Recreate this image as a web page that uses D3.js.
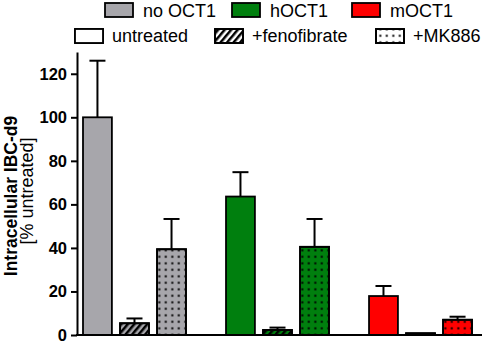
<!DOCTYPE html>
<html lang="en">
<head>
  <meta charset="UTF-8">
  <title>Intracellular IBC-d9</title>
  <script src="https://d3js.org/d3.v7.min.js"></script>
  <style>
    body { margin: 0; background: #fff; }
    text { font-family: "Liberation Sans", Arial, sans-serif; }
  </style>
</head>
<body>
  <div id="chart"></div>
  <script>
    // groups (cell lines) and treatments
    const groups = ["no OCT1", "hOCT1", "mOCT1"];
    const treatments = ["untreated", "+fenofibrate", "+MK886"];
    const groupColors = ["#a7a6ab", "#007f0e", "#ff0000"];

    // mean values [% untreated], one array per group
    const noOCT1 = [100, 5.4, 39.4];
    const hOCT1 = [63.6, 2.3, 40.5];
    const mOCT1 = [17.9, 0.8, 7.0];
    // error bar (upper value)
    const noOCT1_err = [126, 7.6, 53.3];
    const hOCT1_err = [74.8, 3.4, 53.3];
    const mOCT1_err = [22.5, 0.8, 8.4];

    const yTicks = [0, 20, 40, 60, 80, 100, 120];

    const means = [noOCT1, hOCT1, mOCT1];
    const errs = [noOCT1_err, hOCT1_err, mOCT1_err];
    const data = [];
    groups.forEach((g, i) => {
      treatments.forEach((t, j) => {
        data.push({ group: g, treatment: t, value: means[i][j], err: errs[i][j], color: groupColors[i] });
      });
    });

    const width = 484, height = 344;
    const svg = d3.select("#chart").append("svg")
      .attr("width", width)
      .attr("height", height);

    const defs = svg.append("defs");

    // hatch pattern
    const hatch = defs.append("pattern")
      .attr("id", "hatch")
      .attr("patternUnits", "userSpaceOnUse")
      .attr("width", 5)
      .attr("height", 5)
      .attr("patternTransform", "rotate(40)");
    hatch.append("line")
      .attr("x1", 1.25).attr("y1", 0).attr("x2", 1.25).attr("y2", 5)
      .attr("stroke", "#000").attr("stroke-width", 2.5);

    // dot pattern
    const dots = defs.append("pattern")
      .attr("id", "dots")
      .attr("patternUnits", "userSpaceOnUse")
      .attr("width", 6.5)
      .attr("height", 6.5);
    dots.append("rect")
      .attr("x", 2.3).attr("y", 2.3).attr("width", 2).attr("height", 2)
      .attr("fill", "#000");

    const x0 = d3.scaleBand()
      .domain(groups)
      .range([83, 472])
      .paddingInner(0.28)
      .paddingOuter(0);

    const x1 = d3.scaleBand()
      .domain(treatments)
      .range([0, x0.bandwidth()])
      .paddingInner(0.22);

    const y = d3.scaleLinear()
      .domain([0, 130])
      .range([335, 52]);

    // bars
    const barG = svg.append("g");
    data.forEach(d => {
      const bx = x0(d.group) + x1(d.treatment);
      const bw = x1.bandwidth();
      // error bar
      if (d.err > d.value) {
        barG.append("line")
          .attr("x1", bx + bw / 2).attr("x2", bx + bw / 2)
          .attr("y1", y(d.value)).attr("y2", y(d.err))
          .attr("stroke", "#000").attr("stroke-width", 2);
        barG.append("line")
          .attr("x1", bx + bw / 2 - 8).attr("x2", bx + bw / 2 + 8)
          .attr("y1", y(d.err)).attr("y2", y(d.err))
          .attr("stroke", "#000").attr("stroke-width", 2);
      }
      barG.append("rect")
        .attr("x", bx).attr("y", y(d.value))
        .attr("width", bw).attr("height", y(0) - y(d.value))
        .attr("fill", d.color)
        .attr("stroke", "#000").attr("stroke-width", 1.8);
      if (d.treatment !== "untreated") {
        barG.append("rect")
          .attr("x", bx).attr("y", y(d.value))
          .attr("width", bw).attr("height", y(0) - y(d.value))
          .attr("fill", d.treatment === "+fenofibrate" ? "url(#hatch)" : "url(#dots)")
          .attr("stroke", "#000").attr("stroke-width", 1.8);
      }
    });

    // y axis
    const yAxis = svg.append("g")
      .attr("transform", "translate(77,0)")
      .call(d3.axisLeft(y).tickValues(yTicks).tickSize(6).tickSizeOuter(0).tickPadding(4));
    yAxis.select(".domain").attr("stroke-width", 2);
    yAxis.selectAll(".tick line").attr("stroke-width", 2);
    yAxis.selectAll(".tick text")
      .attr("font-size", 16.5)
      .attr("font-weight", "bold")
      .attr("fill", "#000")
      .style("font-family", "'Liberation Sans', Arial, sans-serif");

    // x axis line
    svg.append("line")
      .attr("x1", 76).attr("x2", 482)
      .attr("y1", y(0)).attr("y2", y(0))
      .attr("stroke", "#000").attr("stroke-width", 2);

    // y labels
    svg.append("text")
      .attr("transform", "translate(17,196) rotate(-90)")
      .attr("text-anchor", "middle")
      .attr("font-size", 17.5)
      .attr("font-weight", "bold")
      .text("Intracellular IBC-d9");
    svg.append("text")
      .attr("transform", "translate(33,191) rotate(-90)")
      .attr("text-anchor", "middle")
      .attr("font-size", 18)
      .text("[% untreated]");

    // legend row 1: groups
    const legend1X = [105, 232, 352];
    groups.forEach((g, i) => {
      svg.append("rect")
        .attr("x", legend1X[i]).attr("y", 3)
        .attr("width", 28).attr("height", 14)
        .attr("fill", groupColors[i])
        .attr("stroke", "#000").attr("stroke-width", 1.8);
      svg.append("text")
        .attr("x", legend1X[i] + 38).attr("y", 17)
        .attr("font-size", 18)
        .text(g);
    });

    // legend row 2: treatments
    const legend2X = [75, 215, 376];
    const legendFill = ["#fff", "url(#hatch)", "url(#dots)"];
    treatments.forEach((t, i) => {
      svg.append("rect")
        .attr("x", legend2X[i]).attr("y", 29)
        .attr("width", 28).attr("height", 14)
        .attr("fill", "#fff")
        .attr("stroke", "#000").attr("stroke-width", 1.8);
      svg.append("rect")
        .attr("x", legend2X[i]).attr("y", 29)
        .attr("width", 28).attr("height", 14)
        .attr("fill", legendFill[i])
        .attr("stroke", "#000").attr("stroke-width", 1.8);
      svg.append("text")
        .attr("x", legend2X[i] + 37).attr("y", 42)
        .attr("font-size", 18)
        .text(t);
    });
  </script>
</body>
</html>
